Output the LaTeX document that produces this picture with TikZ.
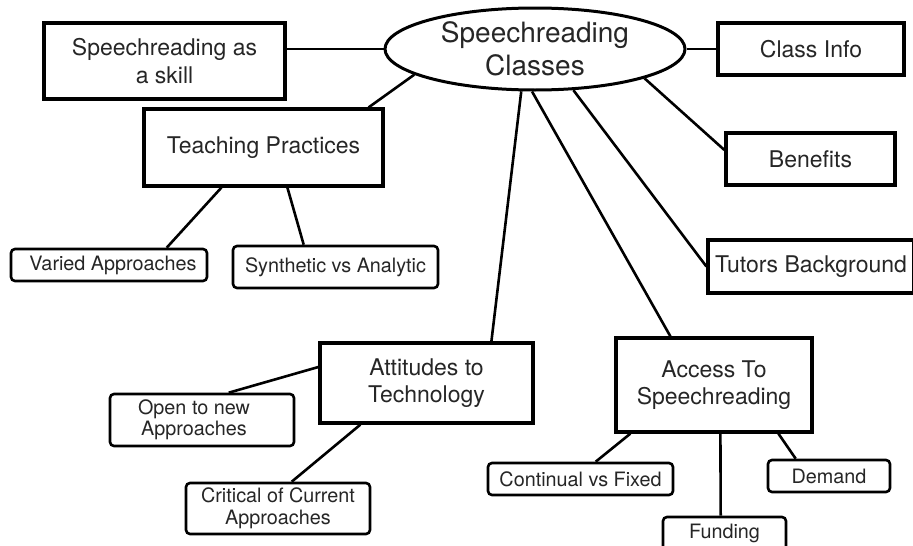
\documentclass[tikz,border=0pt]{standalone}
\usepackage{fontspec}
\setmainfont{TeX Gyre Heros}
\usetikzlibrary{shapes.geometric,calc}
\definecolor{txt}{HTML}{262626}
\tikzset{
  big/.style={draw=black, line width=3.2pt, fill=white, text=txt, align=center, inner sep=0pt,
     font=\fontsize{23}{27.5}\selectfont},
  small/.style={draw=black, line width=2.6pt, rounded corners=4pt, fill=white, text=txt, align=center, inner sep=0pt,
     font=\fontsize{19.8}{21.5}\selectfont},
  link/.style={draw=black, line width=2.6pt},
}
\begin{document}
\begin{tikzpicture}[x=1pt,y=-1pt]
\useasboundingbox (0,0) rectangle (913,546);
% nodes
\node[ellipse, draw=black, line width=3pt, fill=white, text=txt, align=center, inner sep=0pt,
      minimum width=300pt, minimum height=82pt, font=\fontsize{28}{33}\selectfont] (ell) at (535,49) {Speechreading\\Classes};
\node[big, minimum width=241pt, minimum height=76pt] (skill) at (164.5,61) {Speechreading as\\a skill};
\node[big, minimum width=239pt, minimum height=77pt] (tp) at (263.5,147.5) {Teaching Practices};
\node[small, minimum width=196pt, minimum height=32pt] (varied) at (109,265) {\hspace*{8pt}Varied Approaches};
\node[small, minimum width=205pt, minimum height=42pt] (synth) at (335.5,267) {Synthetic vs Analytic};
\node[big, minimum width=213pt, minimum height=80pt] (att) at (426.5,383) {Attitudes to\\Technology};
\node[small, minimum width=184pt, minimum height=52pt] (open) at (202,420) {Open to new\hspace*{16pt}\\Approaches\hspace*{16pt}};
\node[small, minimum width=184pt, minimum height=51pt] (crit) at (278,508.5) {Critical of Current\\Approaches};
\node[big, minimum width=196pt, minimum height=94pt] (acc) at (714,385) {Access To\\Speechreading};
\node[small, minimum width=185pt, minimum height=32pt] (cont) at (580.5,479) {Continual vs Fixed};
\node[small, minimum width=123pt, minimum height=33pt] (fund) at (724.5,533.5) {Funding};
\node[small, minimum width=122pt, minimum height=32pt] (dem) at (829,476) {Demand};
\node[big, minimum width=186pt, minimum height=52pt] (class) at (811,49) {Class Info};
\node[big, minimum width=169pt, minimum height=52pt] (ben) at (810.5,159) {Benefits};
\node[big, minimum width=206pt, minimum height=53pt] (tut) at (811,266.5) {Tutors Background};
% connectors
\draw[link] (ell.west) -- (ell.west -| skill.east);
\draw[link] (ell.192) -- ($(tp.north east)+(-16,0)$);
\draw[link] ($(tp.south west)+(79,0)$) -- ($(varied.north west)+(157,0)$);
\draw[link] ($(tp.south west)+(145,0)$) -- ($(synth.north west)+(72,0)$);
\draw[link] (ell.252) -- ($(att.north west)+(173,0)$);
\draw[link] (ell.266) -- ($(acc.north west)+(56,0)$);
\draw[link] (ell.313) -- (tut.west);
\draw[link] (ell.345) -- ($(ben.west)+(0,-9)$);
\draw[link] (ell.east) -- (class.west);
\draw[link] ($(att.west)+(0,-16)$) -- ($(open.north west)+(120,0)$);
\draw[link] ($(att.south west)+(42,0)$) -- ($(crit.north west)+(107,0)$);
\draw[link] ($(acc.south west)+(16,0)$) -- ($(cont.north west)+(109,0)$);
\draw[link] ($(acc.south west)+(106,0)$) -- ($(fund.north west)+(59,0)$);
\draw[link] ($(acc.south west)+(164,0)$) -- ($(dem.north west)+(29,0)$);
\end{tikzpicture}
\end{document}
